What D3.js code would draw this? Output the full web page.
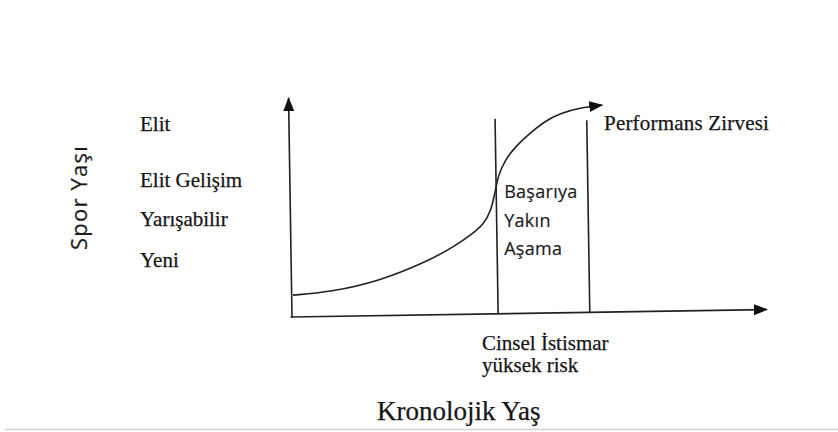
<!DOCTYPE html>
<html>
<head>
<meta charset="utf-8">
<script src="https://cdn.jsdelivr.net/npm/d3@7"></script>
<style>
  body { margin: 0; background: #fff; }
  .serif { font-family: "Liberation Serif", "Times New Roman", serif; fill: #161616; stroke: #161616; stroke-width: 0.25; }
  .sans { font-family: "Open Sans", "Noto Sans", sans-serif; fill: #1c1c1c; stroke: #1c1c1c; stroke-width: 0.2; }
  .axis-line { stroke: #222; stroke-width: 1.6; fill: none; }
</style>
</head>
<body>
<svg width="838" height="432"></svg>
<script>
// **** Chart values ****

// sport-age levels shown on the left (value = height on the sport-age scale)
var levelLabels = ['Elit', 'Elit Gelişim', 'Yarışabilir', 'Yeni'];
var levelTicks = [85, 59.5, 41.5, 23];

// development curve (x = chronological age, y = sport age)
var curveX = [0.2, 8, 18.5, 29.1, 34.3, 37.9, 40.4, 41.9, 42.7, 43.4, 44.8, 46.9, 50.1, 53.3, 56.4, 60.6, 65.3];
var curveY = [10, 11.4, 16.4, 26, 32.4, 37.9, 42.5, 48.5, 56.5, 64.5, 71.5, 77.5, 84, 89.5, 93, 95.5, 96.8];

// phase boundaries (vertical lines) and their heights
var phaseX = [43.4, 62.7];
var phaseTop = [89, 87.7];

var phaseLabel = ['Başarıya', 'Yakın', 'Aşama'];
var peakLabel = 'Performans Zirvesi';
var riskLabel = ['Cinsel İstismar', 'yüksek risk'];
var xTitle = 'Kronolojik Yaş';
var yTitle = 'Spor Yaşı';

// **** Scales ****

var x = d3.scaleLinear().domain([0, 100]).range([292, 767]);
var y = d3.scaleLinear().domain([0, 100]).range([317, 98]);

var svg = d3.select('svg');

// arrow head
svg.append('defs').append('marker')
    .attr('id', 'arrow')
    .attr('markerUnits', 'userSpaceOnUse')
    .attr('viewBox', '0 -6 14 12')
    .attr('refX', 13)
    .attr('refY', 0)
    .attr('markerWidth', 14)
    .attr('markerHeight', 12)
    .attr('orient', 'auto')
    .append('path')
    .attr('d', 'M0,-5.5L14,0L0,5.5Z')
    .attr('fill', '#111');

// thin grey rule at the very bottom
svg.append('line')
    .attr('x1', 5).attr('x2', 838)
    .attr('y1', 429.5).attr('y2', 429.5)
    .attr('stroke', '#d2d2d2')
    .attr('stroke-width', 1.5);

// the scanned figure is slightly tilted, so the frame lines are rotated a little
var frame = svg.append('g')
    .attr('transform', 'rotate(-0.9,' + x(0) + ',' + y(0) + ')');

var seg = d3.line()
    .x(function(d) { return x(d[0]); })
    .y(function(d) { return y(d[1]); });

frame.append('path')
    .attr('class', 'axis-line')
    .attr('d', seg([[0, -0.3], [0, 100]]))
    .attr('marker-end', 'url(#arrow)');

frame.append('path')
    .attr('class', 'axis-line')
    .attr('d', seg([[-0.3, 0], [100, 0]]))
    .attr('marker-end', 'url(#arrow)');

frame.selectAll('.phase')
    .data(phaseX)
    .enter()
    .append('path')
    .attr('class', 'axis-line phase')
    .attr('d', function(d, i) { return seg([[d, 0], [d, phaseTop[i]]]); });

// development curve
var curvePts = curveX.map(function(v, i) { return [v, curveY[i]]; });

svg.append('path')
    .attr('class', 'axis-line')
    .attr('d', d3.line()
        .x(function(d) { return x(d[0]); })
        .y(function(d) { return y(d[1]); })
        .curve(d3.curveBasis)(curvePts))
    .attr('marker-end', 'url(#arrow)');

// **** Labels ****

svg.selectAll('.level')
    .data(levelLabels)
    .enter()
    .append('text')
    .attr('class', 'serif level')
    .attr('x', 140)
    .attr('y', function(d, i) { return y(levelTicks[i]); })
    .style('font-size', '21px')
    .text(function(d) { return d; });

svg.append('text')
    .attr('class', 'sans')
    .attr('transform', 'translate(87,197.5) rotate(-90)')
    .attr('text-anchor', 'middle')
    .style('font-size', '22px')
    .style('letter-spacing', '1.2px')
    .text(yTitle);

svg.append('text')
    .attr('class', 'sans')
    .attr('x', x(phaseX[0]) + 6)
    .attr('y', 198)
    .style('font-size', '18px')
    .style('letter-spacing', '0.3px')
    .selectAll('tspan')
    .data(phaseLabel)
    .enter()
    .append('tspan')
    .attr('x', x(phaseX[0]) + 6)
    .attr('dy', function(d, i) { return i === 0 ? 0 : 28.5; })
    .text(function(d) { return d; });

svg.append('text')
    .attr('class', 'serif')
    .attr('x', 604)
    .attr('y', y(levelTicks[0]) - 0.5)
    .style('font-size', '21px')
    .style('letter-spacing', '0.2px')
    .text(peakLabel);

svg.append('text')
    .attr('class', 'serif')
    .attr('y', 350)
    .style('font-size', '21px')
    .selectAll('tspan')
    .data(riskLabel)
    .enter()
    .append('tspan')
    .attr('x', 482)
    .attr('dy', function(d, i) { return i === 0 ? 0 : 22; })
    .text(function(d) { return d; });

svg.append('text')
    .attr('class', 'serif')
    .attr('x', 377)
    .attr('y', 420)
    .style('font-size', '27px')
    .text(xTitle);
</script>
</body>
</html>
